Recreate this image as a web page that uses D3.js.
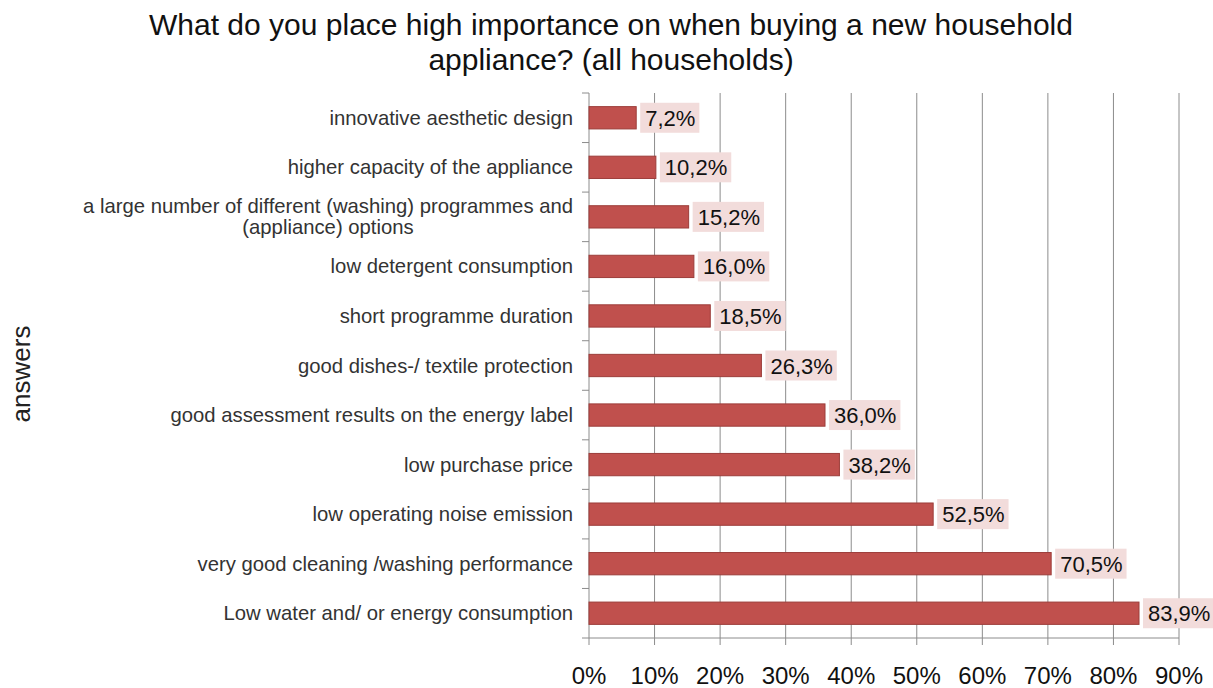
<!DOCTYPE html>
<html>
<head>
<meta charset="utf-8">
<script src="https://cdn.jsdelivr.net/npm/d3@7"></script>
<style>
  html, body { margin: 0; padding: 0; background: #fff; }
  svg { display: block; font-family: "Liberation Sans", Arial, sans-serif; }
</style>
</head>
<body>
<svg id="chart" width="1213" height="688"></svg>
<script>
// Survey answers, top to bottom
const categories = [
  ["innovative aesthetic design"],
  ["higher capacity of the appliance"],
  ["a large number of different (washing) programmes and", "(appliance) options"],
  ["low detergent consumption"],
  ["short programme duration"],
  ["good dishes-/ textile protection"],
  ["good assessment results on the energy label"],
  ["low purchase price"],
  ["low operating noise emission"],
  ["very good cleaning /washing performance"],
  ["Low water and/ or energy consumption"]
];
const values = [7.2, 10.2, 15.2, 16.0, 18.5, 26.3, 36.0, 38.2, 52.5, 70.5, 83.9];
const xTicks = [0, 10, 20, 30, 40, 50, 60, 70, 80, 90];

const titleLines = [
  "What do you place high importance on when buying a new household",
  "appliance? (all households)"
];

const svg = d3.select("#chart");
const plotLeft = 589, plotRight = 1179, plotTop = 93, plotBottom = 638;

const x = d3.scaleLinear().domain([0, 90]).range([plotLeft, plotRight]);
const y = d3.scaleBand()
  .domain(d3.range(categories.length))
  .range([plotTop, plotBottom])
  .paddingInner(0.55)
  .paddingOuter(0.275);

// Title
svg.append("g")
  .selectAll("text")
  .data(titleLines)
  .join("text")
  .attr("x", 611)
  .attr("y", (d, i) => 35 + i * 35)
  .attr("text-anchor", "middle")
  .attr("font-size", 30)
  .attr("fill", "#111")
  .text(d => d);

// Vertical gridlines (extend below the baseline as tick marks)
svg.append("g")
  .selectAll("line")
  .data(xTicks.slice(1))
  .join("line")
  .attr("x1", d => x(d)).attr("x2", d => x(d))
  .attr("y1", plotTop).attr("y2", plotBottom + 7)
  .attr("stroke", "#8c8c8c")
  .attr("stroke-width", 1);

// Baseline and y-axis
svg.append("line")
  .attr("x1", plotLeft).attr("x2", plotRight)
  .attr("y1", plotBottom).attr("y2", plotBottom)
  .attr("stroke", "#8c8c8c");
svg.append("line")
  .attr("x1", plotLeft).attr("x2", plotLeft)
  .attr("y1", plotTop).attr("y2", plotBottom + 7)
  .attr("stroke", "#8c8c8c");

// Category separators on the y-axis
const step = y.step();
svg.append("g")
  .selectAll("line")
  .data(d3.range(categories.length + 1))
  .join("line")
  .attr("x1", plotLeft - 7).attr("x2", plotLeft)
  .attr("y1", i => plotTop + i * step).attr("y2", i => plotTop + i * step)
  .attr("stroke", "#8c8c8c");

// X tick labels
svg.append("g")
  .selectAll("text")
  .data(xTicks)
  .join("text")
  .attr("x", d => x(d))
  .attr("y", 684)
  .attr("text-anchor", "middle")
  .attr("font-size", 24)
  .attr("fill", "#111")
  .text(d => d + "%");

// Category labels: block right-aligned at the axis, lines centred within it
const catG = svg.append("g");
categories.forEach((lines, i) => {
  const cy = y(i) + y.bandwidth() / 2;
  const t = catG.append("text")
    .attr("font-size", 20.3)
    .attr("fill", "#333");
  const spans = lines.map((line, j) =>
    t.append("tspan")
      .attr("y", cy + 7 + (j - (lines.length - 1) / 2) * 21)
      .text(line));
  const widths = spans.map(s => s.node().getComputedTextLength());
  const maxW = d3.max(widths);
  const centre = 573 - maxW / 2;
  spans.forEach(s => s.attr("x", centre).attr("text-anchor", "middle"));
});

// Bars
svg.append("g")
  .selectAll("rect")
  .data(values)
  .join("rect")
  .attr("x", plotLeft)
  .attr("y", (d, i) => y(i))
  .attr("width", d => x(d) - plotLeft)
  .attr("height", y.bandwidth())
  .attr("fill", "#c0504d")
  .attr("stroke", "#9c3d3a")
  .attr("stroke-width", 1);

// Value labels with shaded boxes
const fmt = v => v.toFixed(1).replace(".", ",") + "%";
const lab = svg.append("g")
  .selectAll("g")
  .data(values)
  .join("g")
  .attr("transform", (d, i) => `translate(${x(d) + 4},${y(i) + y.bandwidth() / 2})`);
lab.append("text")
  .attr("x", 5)
  .attr("y", 8)
  .attr("font-size", 22)
  .attr("fill", "#111")
  .text(d => fmt(d));
lab.each(function() {
  const g = d3.select(this);
  const bb = g.select("text").node().getBBox();
  g.insert("rect", "text")
    .attr("x", 0)
    .attr("y", -15)
    .attr("width", bb.width + 9)
    .attr("height", 30)
    .attr("fill", "#f2dcdb");
});

// Y-axis title
svg.append("text")
  .attr("transform", "translate(30,374) rotate(-90)")
  .attr("text-anchor", "middle")
  .attr("font-size", 26)
  .attr("fill", "#222")
  .text("answers");
</script>
</body>
</html>
